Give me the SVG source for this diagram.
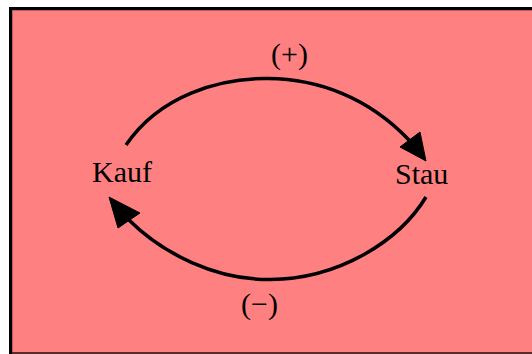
<svg xmlns="http://www.w3.org/2000/svg" width="532" height="354" viewBox="0 0 532 354">
<style>
.lbl{font-family:"Liberation Serif","Times New Roman",serif;font-size:30px;fill:#000}
.arc{fill:none;stroke:#000;stroke-width:3.5}
.head{fill:#000;stroke:#000;stroke-width:1;stroke-linejoin:miter}
</style>
<rect x="9" y="7" width="523" height="347" fill="#000"/>
<rect x="12" y="10" width="520" height="344" fill="#B85C5C"/>
<rect x="13" y="11" width="519" height="341" fill="#FF8080"/>
<rect x="12" y="352" width="520" height="2" fill="#5A2A2A"/>
<g id="connectors">
<path class="arc" d="M126,145 C160,95 220,78 268,78.5 C318,79 368,97 409,140"/>
<polygon class="head" points="400,147 420,132 426,161"/>
<path class="arc" d="M426,197 C400,240 340,279 270,279.5 C215,280 162,253 129,220"/>
<polygon class="head" points="118,228 140,213 109,197"/>
</g>
<g id="node-kauf"><text class="lbl" x="92" y="182">Kauf</text></g>
<g id="node-stau"><text class="lbl" x="395" y="184">Stau</text></g>
<g id="label-plus"><text class="lbl" x="271" y="64">(+)</text></g>
<g id="label-minus"><text class="lbl" x="241" y="314">(−)</text></g>
</svg>
